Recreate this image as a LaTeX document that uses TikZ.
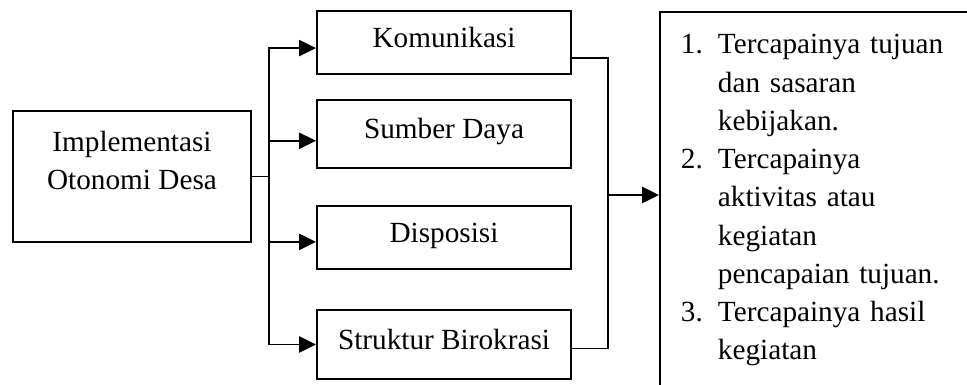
\documentclass[tikz,border=0pt]{standalone}
\usepackage{fontspec}
\setmainfont{Liberation Serif}
\usetikzlibrary{arrows.meta}

\begin{document}
\begin{tikzpicture}[
    font=\fontsize{20.8pt}{27.2pt}\selectfont,
    line width=1.4pt,
    caja/.style={draw, minimum width=6.35cm, text height=0.55cm, text depth=0.3cm, inner sep=0pt},
    flecha/.style={-{Triangle[length=0.42cm,width=0.4cm]}},
    dobleflecha/.style={{Triangle[length=0.42cm,width=0.4cm]}-{Triangle[length=0.42cm,width=0.4cm]}}
  ]
  % Marco
  \useasboundingbox (0,0) rectangle (24.175,9.625);
  \clip (0,0) rectangle (24.175,9.625);

  % Cajas
  \node[draw, minimum width=5.95cm, minimum height=3.275cm, align=center] (impl) at (3.3,5.2125) {Implementasi\\Otonomi Desa\\[-0.15cm]\mbox{}};
  \node[caja, minimum height=1.575cm] (kom) at (11.1,8.5625) {Komunikasi};
  \node[caja, minimum height=1.7cm] (sum) at (11.1,6.275) {Sumber Daya};
  \node[caja, minimum height=1.575cm] (dis) at (11.1,3.6875) {Disposisi};
  \node[caja, minimum height=1.725cm] (str) at (11.1,1.0125) {Struktur Birokrasi};
  \node[draw, anchor=north west, text width=8cm, align=left, inner xsep=0.525cm, inner ysep=0.38cm] (res) at (16.475,9.35) {%
    \begin{tabular}{@{}p{0.925cm}@{}l@{}}
      1. & Tercapainya tujuan\\
         & dan sasaran\\
         & kebijakan.\\
      2. & Tercapainya\\
         & aktivitas atau\\
         & kegiatan\\
         & pencapaian tujuan.\\
      3. & Tercapainya hasil\\
         & kegiatan\\
         & \\
    \end{tabular}};

  % Conectores de la izquierda
  \coordinate (bizq) at (6.725,0);
  \draw (impl.east) -- (impl.east -| bizq);
  \draw[dobleflecha] ([yshift=-0.14cm]kom.west) -| (bizq |- str.west) -- (str.west);
  \foreach \n/\d in {sum/-0.17, dis/-0.11}
    \draw[flecha] ([yshift=\d cm]bizq |- \n.west) -- ([yshift=\d cm]\n.west);

  % Conectores de la derecha
  \coordinate (bder) at (15.2,4.75);
  \draw ([yshift=-0.39cm]kom.east) -| ([yshift=-0.1cm]bder |- str.east) -- ([yshift=-0.1cm]str.east);
  \draw[flecha] (bder) -- (bder -| res.west);

\end{tikzpicture}
\end{document}
